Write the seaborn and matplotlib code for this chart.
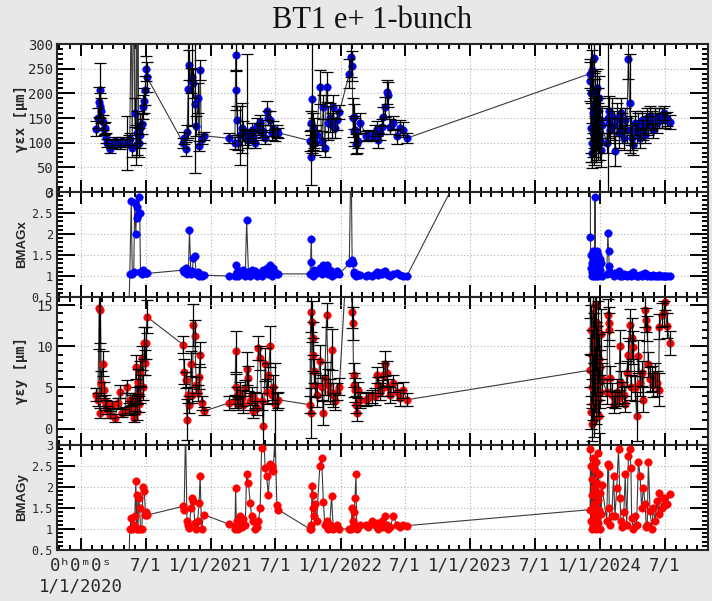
import matplotlib
matplotlib.use("Agg")
import matplotlib.pyplot as plt
import matplotlib.dates as mdates
import matplotlib.ticker as mticker
import pandas as pd
import seaborn as sns

sns.set_theme(style="ticks")
plt.rcParams['font.family'] = ['DejaVu Sans Mono', 'DejaVu Sans']

# measurement day, counted from 1/1/2020 (one line per run period)
days = [
    43, 47, 51, 53, 54, 57, 61, 64, 66, 69, 73, 80, 87, 96, 103, 109, 115, 123, 129, 134,
    137, 141, 144, 148, 151, 154, 156, 157, 160, 162, 165, 167, 171, 174, 178, 181, 183, 185,
    287, 290, 294, 298, 302, 305, 309, 313, 316, 320, 324, 328, 332, 335, 339, 345,
    415, 433, 435, 437, 439, 443, 448, 452, 457, 462, 466, 471, 476, 480, 485, 490, 494, 499,
    504, 508, 513, 518, 522, 527, 532, 536, 541, 546, 551, 555,
    644, 646, 648, 650, 652, 653, 655, 658, 663, 672, 677, 682, 686, 691, 696, 700, 705, 710,
    714, 719, 727,
    755, 760, 763, 765, 767, 769, 771, 774, 776, 780, 786, 803, 809, 818, 827, 832, 837, 842,
    847, 851, 856, 860, 863, 870, 879, 889, 898, 907, 917,
    1433, 1434, 1435, 1436, 1437, 1438, 1439, 1440, 1441, 1442, 1443, 1444, 1445, 1446, 1447,
    1448, 1449, 1450, 1451, 1452, 1453, 1454, 1455, 1456, 1457, 1458, 1460, 1462, 1464, 1466,
    1480, 1483, 1485, 1487, 1489, 1494, 1499, 1503, 1508, 1513, 1517, 1520, 1524, 1528, 1532,
    1536, 1541, 1544, 1548, 1550, 1555, 1560, 1564, 1569, 1574, 1578, 1583, 1588, 1591, 1594,
    1597, 1602, 1607, 1611, 1616, 1621, 1626, 1628, 1635, 1640, 1644, 1649, 1658,
]

emit_x = [
    128, 150, 182, 175, 206, 165, 141, 128, 130, 110, 100, 87, 97, 104, 100, 97, 104, 100, 100, 105,
    107, 400, 90, 480, 161, 95, 520, 120, 450, 100, 130, 115, 138, 172, 185, 206, 250, 233,
    100, 110, 87, 121, 209, 257, 226, 233, 220, 179, 134, 190, 93, 248, 107, 114,
    109, 100, 277, 206, 145, 100, 115, 130, 124, 110, 120, 105, 115, 125, 112, 100, 134, 128,
    141, 120, 124, 110, 165, 150, 145, 120, 128, 115, 124, 120,
    104, 70, 140, 189, 130, 110, 120, 100, 115, 213, 104, 172, 90, 213, 140, 151, 135, 172,
    130, 145, 162,
    240, 274, 255, 151, 124, 153, 126, 97, 99, 104, 140, 114, 115, 113, 120, 128, 105, 120,
    132, 153, 173, 203, 197, 132, 140, 113, 130, 126, 109,
    240, 224, 200, 130, 247, 79, 100, 170, 120, 160, 271, 90, 140, 200, 110,
    180, 130, 95, 150, 210, 125, 100, 165, 140, 115, 190, 105, 145, 85, 135,
    100, 150, 165, 140, 125, 155, 135, 83, 150, 120, 145, 160, 130, 110, 145,
    125, 270, 180, 125, 110, 95, 140, 120, 135, 110, 145, 125, 115, 140, 150,
    135, 155, 145, 125, 150, 140, 155, 145, 150, 160, 145, 148, 142,
]

emit_x_err = [
    15, 20, 30, 25, 55, 25, 15, 12, 12, 10, 8, 8, 8, 8, 8, 10, 8, 8, 55, 10,
    12, 50, 20, 60, 30, 40, 60, 45, 60, 30, 30, 25, 20, 25, 25, 30, 25, 30,
    10, 12, 15, 15, 100, 30, 25, 100, 30, 140, 20, 30, 10, 20, 10, 8,
    10, 12, 30, 40, 30, 15, 60, 50, 20, 15, 160, 15, 12, 15, 12, 10, 15, 12,
    15, 15, 12, 12, 20, 15, 20, 15, 15, 12, 12, 10,
    20, 55, 25, 110, 30, 25, 30, 25, 20, 35, 20, 25, 20, 30, 35, 30, 25, 25,
    20, 20, 15,
    30, 40, 30, 40, 30, 25, 25, 20, 20, 15, 20, 10, 10, 10, 15, 15, 15, 15,
    15, 20, 20, 25, 25, 15, 15, 15, 15, 15, 10,
    30, 40, 140, 50, 40, 30, 40, 60, 50, 40, 30, 35, 50, 45, 40,
    50, 40, 35, 45, 40, 40, 35, 45, 40, 35, 45, 40, 45, 35, 40,
    20, 150, 30, 30, 25, 35, 30, 30, 30, 30, 25, 30, 30, 25, 25,
    25, 40, 100, 30, 25, 20, 25, 20, 25, 20, 20, 20, 15, 20, 20,
    20, 20, 20, 15, 20, 20, 15, 15, 20, 15, 15, 15, 15,
]

bmag_x = [
    0, 0, 0, 0, 0, 0, 0, 0, 0, 0, 0, 0, 0, 0, 0, 0, 0, 0, 0, 0,
    1.05, 2.78, 1.05, 1.1, 2.75, 2.0, 2.64, 2.37, 2.45, 2.88, 2.49, 1.1, 1.05, 1.15, 1.08, 1.1, 1.06, 1.06,
    1.14, 1.1, 1.2, 1.05, 1.1, 2.1, 1.05, 1.12, 1.42, 1.47, 1.05, 1.1, 1.0, 1.05, 1.0, 1.02,
    1.0, 1.0, 1.26, 1.05, 1.1, 1.0, 1.12, 1.05, 1.15, 1.0, 2.33, 1.1, 1.0, 1.15, 1.05, 1.12, 1.0, 1.08,
    1.05, 1.0, 1.15, 1.1, 1.2, 1.05, 1.26, 1.0, 1.18, 1.1, 1.05, 1.05,
    1.05, 1.34, 1.89, 1.05, 1.1, 1.0, 1.15, 1.05, 1.1, 1.2, 1.05, 1.26, 1.1, 1.26, 1.05, 1.15, 1.0, 1.1,
    1.05, 1.12, 1.05,
    1.3, 4.0, 1.38, 1.3, 1.1, 1.05, 1.02, 1.0, 1.05, 1.02, 1.03, 1.0, 1.02, 1.0, 1.05, 1.1, 1.03, 1.08,
    1.05, 1.1, 1.12, 1.05, 1.02, 1.0, 1.05, 1.08, 1.02, 1.0, 1.0,
    9.5, 1.93, 1.2, 1.5, 1.0, 1.3, 1.1, 1.6, 1.4, 1.05, 1.25, 1.55, 1.0, 1.35, 2.88,
    1.15, 1.45, 1.0, 1.2, 1.6, 1.1, 1.3, 1.0, 1.5, 1.25, 1.05, 1.4, 1.15, 1.3, 1.0,
    1.05, 2.03, 1.6, 1.25, 1.1, 1.05, 1.0, 1.08, 1.05, 1.12, 1.0, 1.03, 1.0, 1.05, 1.02,
    1.0, 1.02, 1.05, 1.0, 1.03, 1.1, 1.03, 1.0, 1.0, 1.02, 1.0, 1.05, 1.08, 1.03, 1.0,
    1.02, 1.0, 1.0, 1.02, 1.0, 1.0, 1.03, 1.0, 1.0, 1.01, 1.0, 1.0, 1.0,
]

emit_y = [
    4.1, 3.5, 14.7, 1.9, 14.4, 5.5, 7.9, 4.7, 3.3, 2.9, 2.3, 1.7, 2.9, 1.3, 3.1, 4.5, 1.9, 2.1, 5.1, 2.5,
    3.5, 2.5, 3.5, 1.3, 2.9, 7.5, 2.0, 4.1, 5.7, 3.0, 6.7, 4.1, 8.6, 5.0, 10.4, 8.0, 10.4, 13.6,
    10.2, 6.9, 5.9, 1.1, 4.1, 2.9, 7.9, 4.1, 12.6, 11.2, 5.3, 4.3, 6.3, 9.0, 3.1, 2.1,
    3.1, 3.3, 9.4, 5.1, 4.0, 3.0, 4.2, 3.7, 2.9, 4.9, 7.3, 6.1, 3.3, 4.1, 2.1, 3.5, 2.5, 9.8,
    8.6, 3.3, 0.3, 7.8, 4.5, 6.5, 10.0, 4.1, 5.0, 3.0, 3.3, 3.5,
    2.9, 14.2, 1.9, 13.0, 11.0, 9.0, 7.0, 5.3, 4.1, 8.2, 5.0, 1.9, 6.1, 13.8, 5.3, 4.5, 9.6, 4.1,
    3.3, 4.5, 5.1,
    26.0, 20.0, 14.2, 12.8, 6.5, 5.3, 4.7, 2.9, 1.9, 4.7, 3.5, 3.5, 3.7, 3.9, 3.9, 6.5, 5.3, 4.5,
    4.9, 6.5, 7.9, 6.7, 5.0, 4.1, 5.5, 4.5, 3.7, 4.7, 3.5,
    7.1, 16.5, 2.0, 12.0, 5.0, 9.0, 0.5, 14.0, 7.0, 3.0, 11.0, 6.0, 1.0, 15.0, 8.0,
    4.0, 10.0, 13.0, 2.5, 6.5, 9.5, 3.5, 12.5, 5.5, 1.5, 8.5, 4.5, 7.5, 11.5, 6.0,
    4.5, 13.8, 12.8, 12.0, 6.1, 4.1, 2.9, 3.5, 4.5, 3.7, 10.0, 5.5, 4.2, 4.1, 3.0,
    6.7, 9.0, 12.6, 5.0, 11.0, 9.9, 4.9, 1.5, 8.8, 5.5, 6.7, 3.5, 14.4, 13.2, 12.2,
    7.8, 6.0, 6.1, 5.3, 6.5, 5.5, 4.7, 12.4, 13.8, 14.0, 15.4, 12.5, 10.4,
]

emit_y_err = [
    0.8, 0.8, 5.0, 0.6, 4.0, 1.5, 1.5, 1.0, 0.8, 0.6, 0.5, 0.4, 0.5, 0.5, 0.6, 0.8, 0.5, 0.5, 0.8, 0.6,
    0.8, 0.8, 0.6, 0.5, 0.8, 1.5, 1.0, 1.0, 1.5, 1.0, 1.5, 1.0, 1.5, 1.5, 2.0, 1.5, 2.0, 2.0,
    1.0, 1.5, 1.0, 2.5, 1.0, 1.0, 1.5, 1.0, 2.5, 2.0, 1.0, 1.0, 1.5, 1.5, 0.8, 0.5,
    0.8, 0.8, 2.5, 1.5, 1.0, 0.8, 1.5, 1.0, 1.0, 1.0, 2.0, 1.5, 1.0, 1.0, 0.8, 1.0, 0.8, 1.5,
    1.5, 1.0, 3.0, 2.0, 1.5, 1.5, 2.5, 1.0, 1.5, 5.0, 1.0, 1.0,
    1.0, 2.5, 3.0, 2.5, 2.0, 2.0, 1.5, 1.5, 1.5, 2.0, 1.5, 1.5, 2.0, 1.5, 2.0, 1.5, 2.5, 1.5,
    1.0, 1.0, 1.0,
    3.0, 3.0, 2.0, 2.0, 1.5, 1.5, 1.5, 1.0, 1.0, 1.0, 1.0, 0.8, 0.8, 0.8, 1.0, 1.0, 1.0, 1.0,
    1.0, 1.5, 1.5, 1.5, 1.0, 1.0, 1.0, 1.0, 1.0, 1.0, 0.8,
    2, 3, 2, 3, 2, 3, 2, 3, 2, 2, 3, 2, 2, 3, 2,
    2, 3, 3, 2, 2, 3, 2, 3, 2, 2, 3, 2, 2, 3, 2,
    1.5, 2.0, 2.0, 2.0, 1.5, 1.5, 1.0, 1.0, 1.5, 1.0, 2.0, 1.5, 1.5, 1.0, 1.0,
    1.5, 2.0, 2.0, 1.5, 2.5, 2.0, 1.5, 3.0, 2.0, 1.5, 1.5, 1.5, 2.0, 1.5, 1.5,
    1.5, 1.5, 1.5, 1.5, 1.5, 1.5, 2.0, 1.5, 1.5, 1.5, 1.0, 1.5, 1.5,
]

bmag_y = [
    0, 0, 0, 0, 0, 0, 0, 0, 0, 0, 0, 0, 0, 0, 0, 0, 0, 0, 0, 0,
    1.0, 1.26, 1.0, 1.1, 1.3, 2.14, 1.0, 1.82, 1.0, 1.74, 1.5, 1.0, 1.0, 2.0, 1.9, 1.34, 1.4, 1.33,
    1.54, 1.45, 3.4, 1.18, 1.1, 1.02, 1.5, 1.74, 1.66, 1.15, 1.0, 1.2, 1.62, 2.26, 1.0, 1.34,
    1.12, 1.0, 1.98, 1.1, 1.2, 1.0, 1.3, 1.05, 1.25, 1.1, 2.3, 2.1, 1.62, 1.3, 1.18, 1.0, 1.05, 1.18,
    1.5, 2.94, 3.5, 2.46, 2.26, 1.82, 2.54, 2.5, 2.38, 3.3, 1.58, 1.46,
    1.0, 1.1, 1.0, 2.02, 1.82, 1.5, 1.3, 1.6, 1.2, 2.5, 2.7, 1.65, 1.1, 1.2, 1.0, 1.1, 1.78, 1.0,
    1.05, 1.1, 1.0,
    1.0, 1.0, 1.5, 1.2, 1.1, 1.4, 1.74, 2.3, 1.0, 1.05, 1.1, 1.1, 1.05, 1.18, 1.1, 1.15, 1.0, 1.1,
    1.2, 1.05, 1.3, 1.1, 1.0, 1.05, 1.3, 1.1, 1.05, 1.1, 1.08,
    1.46, 2.9, 1.2, 2.5, 1.0, 1.8, 2.2, 1.4, 2.7, 1.1, 1.6, 2.0, 1.3, 2.4, 1.05,
    1.9, 2.6, 1.5, 1.0, 2.1, 1.25, 2.8, 1.7, 1.15, 2.3, 1.45, 1.0, 1.85, 1.35, 2.05,
    1.2, 2.55, 2.5, 1.5, 1.1, 1.3, 2.26, 1.3, 1.98, 2.9, 1.74, 1.2, 1.05, 1.4, 2.3,
    1.1, 2.74, 2.9, 2.46, 1.26, 1.0, 1.3, 1.1, 2.6, 2.26, 1.5, 1.98, 1.6, 1.05, 1.1,
    2.6, 1.42, 1.0, 1.5, 1.2, 1.66, 1.35, 1.86, 1.5, 1.74, 1.58, 1.6, 1.84,
]

tick_dates = ["2020-01-01", "2020-07-01", "2021-01-01", "2021-07-01", "2022-01-01",
              "2022-07-01", "2023-01-01", "2023-07-01", "2024-01-01", "2024-07-01"]
tick_labels = ["0ʰ0ᵐ0ˢ\n1/1/2020", "7/1", "1/1/2021", "7/1", "1/1/2022",
               "7/1", "1/1/2023", "7/1", "1/1/2024", "7/1"]

df = pd.DataFrame({
    "day": days, "ex": emit_x, "ex_err": emit_x_err, "bx": bmag_x,
    "ey": emit_y, "ey_err": emit_y_err, "by": bmag_y,
})
df["date"] = pd.Timestamp("2020-01-01") + pd.to_timedelta(df["day"], unit="D")

fig, axes = plt.subplots(4, 1, sharex=True, figsize=(7.12, 6.01), dpi=100,
                         gridspec_kw=dict(height_ratios=[148, 105, 148, 105], hspace=0))
fig.patch.set_facecolor("#e8e8e8")
fig.subplots_adjust(left=57 / 712, right=708 / 712, top=1 - 44 / 601, bottom=1 - 550 / 601)

# column, error column, colour, label, limits, major step, minor step, label size
panels = [
    ("ex", "ex_err", "#0000ff", "γεx [μm]", (0, 300), 50, 10, 10),
    ("bx", None, "#0000ff", "BMAGx", (0.5, 3), 0.5, 0.1, 8.5),
    ("ey", "ey_err", "#ff0000", "γεy [μm]", (-2, 16), 5, 1, 10),
    ("by", None, "#ff0000", "BMAGy", (0.5, 3), 0.5, 0.1, 8.5),
]

for ax, (col, err, color, label, lim, major, minor, lsize) in zip(axes, panels):
    ax.set_facecolor("white")
    ax.set_axisbelow(True)
    sns.lineplot(data=df, x="date", y=col, ax=ax, estimator=None, sort=False,
                 color="#3a3a3a", lw=0.8, zorder=2)
    sns.scatterplot(data=df, x="date", y=col, ax=ax, color=color, s=30,
                    edgecolor=color, linewidth=0.3, zorder=3)
    if err:
        ax.errorbar(df["date"], df[col], yerr=df[err], fmt="none", ecolor="black",
                    elinewidth=0.9, capsize=4, capthick=0.9, zorder=4)
    ax.set_ylim(*lim)
    ax.yaxis.set_major_locator(mticker.MultipleLocator(major))
    ax.yaxis.set_minor_locator(mticker.MultipleLocator(minor))
    ax.yaxis.set_major_formatter(mticker.FuncFormatter(lambda v, p: "%g" % v))
    ax.grid(True, which="major", color="#b5b5b5", linestyle=(0, (1, 2)), lw=0.8)
    ax.tick_params(axis="both", which="both", direction="in", top=True, right=True,
                   width=1.4, colors="black", labelcolor="#2a2a2a")
    ax.tick_params(axis="y", which="major", length=13, labelsize=lsize, pad=3)
    ax.tick_params(axis="y", which="minor", length=4.5)
    ax.tick_params(axis="x", which="major", length=8.5, labelsize=12.5, pad=5)
    ax.tick_params(axis="x", which="minor", length=3.5)
    for s in ax.spines.values():
        s.set_linewidth(1.5)
    if label.startswith("BMAG"):
        ax.set_ylabel(label, family="Liberation Sans", fontweight="bold", fontsize=9.5)
    else:
        ax.set_ylabel(label, fontweight="bold", fontsize=10)
    ax.yaxis.set_label_coords(-0.044, 0.5)
    ax.set_xlabel("")

ax = axes[-1]
ax.set_xlim(pd.Timestamp("2019-10-25"), pd.Timestamp("2024-10-31"))
ax.xaxis.set_major_locator(mticker.FixedLocator(mdates.date2num(pd.to_datetime(tick_dates))))
ax.xaxis.set_major_formatter(mticker.FixedFormatter(tick_labels))
ax.xaxis.set_minor_locator(mdates.MonthLocator())

fig.text(372 / 712, 1 - 21 / 601, "BT1 e+ 1-bunch", family="Liberation Serif",
         fontsize=22, ha="center", va="center", color="#111111")

fig.savefig("out.png", dpi=100, facecolor=fig.get_facecolor())
